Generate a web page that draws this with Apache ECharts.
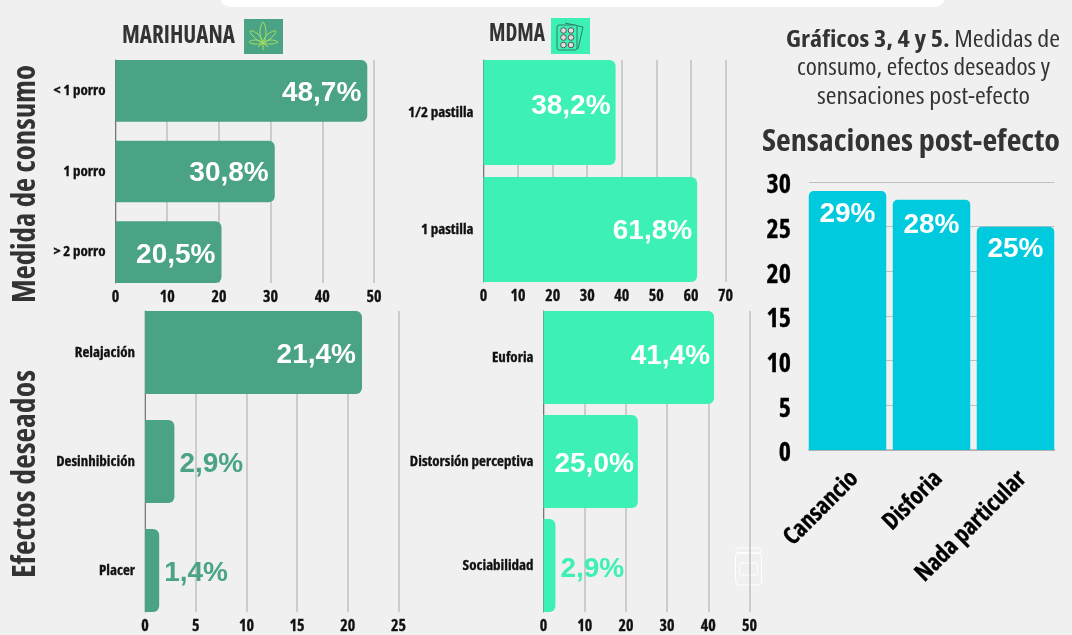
<!DOCTYPE html>
<html>
<head>
<meta charset="utf-8">
<style>
  html, body { margin: 0; padding: 0; background: #f0f0f0; }
  #chart { width: 1072px; height: 635px; }
</style>
</head>
<body>
<div id="chart"></div>
<script src="https://cdn.jsdelivr.net/npm/echarts@6/dist/echarts.min.js"></script>
<script>
// values
var consumoMarihuanaCats = ['< 1 porro', '1 porro', '> 2 porro'];
var consumoMarihuanaVals = [48.7, 30.8, 20.5];
var consumoMarihuanaTags = ['48,7%', '30,8%', '20,5%'];

var consumoMdmaCats = ['1/2 pastilla', '1 pastilla'];
var consumoMdmaVals = [38.2, 61.8];
var consumoMdmaTags = ['38,2%', '61,8%'];

var efectosMarihuanaCats = ['Relajación', 'Desinhibición', 'Placer'];
var efectosMarihuanaVals = [21.4, 2.9, 1.4];
var efectosMarihuanaTags = ['21,4%', '2,9%', '1,4%'];

// the middle bar in the source is drawn shorter than its printed 25,0%
var efectosMdmaCats = ['Euforia', 'Distorsión perceptiva', 'Sociabilidad'];
var efectosMdmaVals = [41.4, 22.9, 2.9];
var efectosMdmaTags = ['41,4%', '25,0%', '2,9%'];

var sensacionesCats = ['Cansancio', 'Disforia', 'Nada particular'];
var sensacionesVals = [29, 28, 25];
var sensacionesTags = ['29%', '28%', '25%'];

var SANS = '"Liberation Sans", Arial, sans-serif';
var NARROW = '"Open Sans"';
var GREEN = '#4ba385';
var MINT = '#3df0b5';
var CYAN = '#00cbde';

var option = {
  backgroundColor: '#f0f0f0',
  animation: false,
  grid: [],
  xAxis: [],
  yAxis: [],
  series: [],
  graphic: []
};

function narrowLabel (size, color, extra) {
  var o = {
    color: color, fontFamily: NARROW, fontStyle: 'condensed', fontWeight: 'bold', fontSize: size,
    textBorderColor: color, textBorderWidth: 0.3
  };
  for (var k in extra) o[k] = extra[k];
  return o;
}

function hPanel (p) {
  var n = p.cats.length;
  var band = (p.bottom - p.top + p.gap) / n;
  var pad = p.gap / 2;
  var g = option.grid.length;

  option.grid.push({ left: p.left, width: p.width, top: p.top, height: p.bottom - p.top });
  option.xAxis.push({
    gridIndex: g, type: 'value', min: 0, max: p.max, interval: p.step, position: 'bottom',
    axisLine: { show: false }, axisTick: { show: false },
    axisLabel: narrowLabel(16, '#111', { margin: 6 }),
    splitLine: { show: true, lineStyle: { color: '#c0c0c0', width: 1.5 } }
  });
  option.yAxis.push({
    gridIndex: g, type: 'value', min: 0, max: 1,
    axisLine: { show: true, onZero: false, lineStyle: { color: '#777', width: 1 } },
    axisTick: { show: false }, axisLabel: { show: false }, splitLine: { show: false }
  });

  option.grid.push({ left: p.left, width: p.width, top: p.top - pad, height: p.bottom - p.top + p.gap });
  option.xAxis.push({ gridIndex: g + 1, type: 'value', min: 0, max: p.max, show: false });
  option.yAxis.push({
    gridIndex: g + 1, type: 'category', inverse: true, data: p.cats,
    axisLine: { show: false }, axisTick: { show: false },
    axisLabel: narrowLabel(15, '#111', { margin: 10, interval: 0 })
  });
  option.series.push({
    type: 'bar', xAxisIndex: g + 1, yAxisIndex: g + 1,
    barWidth: band - p.gap,
    itemStyle: { color: p.color, borderRadius: [0, 6, 6, 0] },
    data: p.vals.map(function (v, i) {
      var outside = v < 5;
      return {
        value: v,
        label: {
          show: true,
          formatter: p.tags[i],
          position: outside ? 'right' : 'insideRight',
          distance: outside ? 5 : p.inset,
          offset: [0, p.nudge[i]],
          color: outside ? p.color : '#fff',
          fontFamily: SANS,
          fontWeight: 'bold',
          fontSize: 28
        }
      };
    })
  });
}

hPanel({ cats: consumoMarihuanaCats, vals: consumoMarihuanaVals, tags: consumoMarihuanaTags, nudge: [2, 2, 3], inset: 6,
  left: 115.5, width: 258.5, top: 60, bottom: 283, gap: 19, max: 50, step: 10, color: GREEN });
hPanel({ cats: consumoMdmaCats, vals: consumoMdmaVals, tags: consumoMdmaTags, nudge: [-6, 2], inset: 5,
  left: 483.5, width: 242, top: 60, bottom: 282, gap: 12, max: 70, step: 10, color: MINT });
hPanel({ cats: efectosMarihuanaCats, vals: efectosMarihuanaVals, tags: efectosMarihuanaTags, nudge: [3, 3, 3], inset: 6,
  left: 145, width: 253.5, top: 311, bottom: 612, gap: 26, max: 25, step: 5, color: GREEN });
hPanel({ cats: efectosMdmaCats, vals: efectosMdmaVals, tags: efectosMdmaTags, nudge: [-1, 3, 4], inset: 4,
  left: 543.5, width: 206, top: 311, bottom: 612, gap: 11, max: 50, step: 10, color: MINT });

// vertical chart on the right: gridlines, bars, then a grid just for the tick and category text
(function () {
  var g = option.grid.length;
  var labelNudge = [2, 4, 2];
  option.grid.push({ left: 809, width: 245.5, top: 182, height: 268 });
  option.xAxis.push({
    gridIndex: g, type: 'category', data: sensacionesCats,
    axisLine: { show: true, lineStyle: { color: '#aaa', width: 1.5 } },
    axisTick: { show: false }, axisLabel: { show: false }
  });
  option.yAxis.push({
    gridIndex: g, type: 'value', min: 0, max: 30, interval: 5,
    axisLine: { show: false }, axisTick: { show: false }, axisLabel: { show: false },
    splitLine: { show: true, lineStyle: { color: '#c0c0c0', width: 1 } }
  });

  option.grid.push({ left: 805.5, width: 252, top: 182, height: 268 });
  option.xAxis.push({ gridIndex: g + 1, type: 'category', data: sensacionesCats, show: false });
  option.yAxis.push({ gridIndex: g + 1, type: 'value', min: 0, max: 30, show: false });
  option.series.push({
    type: 'bar', xAxisIndex: g + 1, yAxisIndex: g + 1,
    barWidth: 77.5,
    itemStyle: { color: CYAN, borderRadius: [5, 5, 0, 0] },
    data: sensacionesVals.map(function (v, i) {
      return {
        value: v,
        label: {
          show: true, position: 'insideTop', distance: 7, offset: [0, labelNudge[i]], color: '#fff',
          fontFamily: SANS, fontWeight: 'bold', fontSize: 28,
          formatter: sensacionesTags[i]
        }
      };
    })
  });

  option.grid.push({ left: 812.5, width: 252, top: 186, height: 268 });
  option.xAxis.push({
    gridIndex: g + 2, type: 'category', data: sensacionesCats,
    axisLine: { show: false }, axisTick: { show: false },
    axisLabel: narrowLabel(24, '#000', { rotate: 45, margin: 21, interval: 0 })
  });
  option.yAxis.push({
    gridIndex: g + 2, type: 'value', min: 0, max: 30, interval: 5,
    axisLine: { show: false }, axisTick: { show: false }, splitLine: { show: false },
    axisLabel: narrowLabel(26, '#000', { margin: 21.5 })
  });
})();

// squeeze a heading to the width it has in the picture
var measure = document.createElement('canvas').getContext('2d');
function widthOf (text, size, weight) {
  measure.font = 'condensed ' + weight + ' ' + size + 'px ' + NARROW;
  return measure.measureText(text).width;
}
function heading (x, y, text, size, target, weight, align, rotation) {
  return {
    type: 'text', x: x, y: y, silent: true, rotation: rotation || 0,
    scaleX: target / widthOf(text, size, weight),
    style: {
      text: text, fontFamily: NARROW, fontStyle: 'condensed', fontWeight: weight, fontSize: size, fill: '#333',
      textAlign: align, textVerticalAlign: 'middle'
    }
  };
}
function lobe (points) {
  return { type: 'polygon', silent: true, shape: { points: points, smooth: 0.4 }, style: { fill: 'none', stroke: '#a5e060', lineWidth: 1 } };
}
function pill (cx, cy) {
  return { type: 'circle', silent: true, shape: { cx: cx, cy: cy, r: 2.8 }, style: { fill: '#ddd', stroke: '#555', lineWidth: 1 } };
}

var boldPart = 'Gráficos 3, 4 y 5. ';
var plainPart = 'Medidas de';
var boldW = widthOf(boldPart, 23, 'bold');
var plainW = widthOf(plainPart, 23, 'normal');

option.graphic = [
  { type: 'rect', silent: true, shape: { x: 220, y: -20, width: 725, height: 27, r: 10 }, style: { fill: '#fff' } },

  // icon tiles
  { type: 'rect', silent: true, shape: { x: 244, y: 19, width: 39, height: 35 }, style: { fill: GREEN } },
  { type: 'rect', silent: true, shape: { x: 551, y: 18, width: 39, height: 36 }, style: { fill: MINT } },

  // leaf
  lobe([[263, 43], [260, 32], [263, 22], [266, 32]]),
  lobe([[263, 43], [255, 38], [250, 31], [258, 34]]),
  lobe([[263, 43], [271, 38], [276, 31], [268, 34]]),
  lobe([[263, 43], [255, 44], [249, 42], [256, 40]]),
  lobe([[263, 43], [271, 44], [278, 42], [270, 40]]),
  { type: 'line', silent: true, shape: { x1: 263, y1: 43, x2: 263, y2: 50 }, style: { stroke: '#a5e060', lineWidth: 1 } },
  { type: 'polyline', silent: true, shape: { points: [[258, 47], [263, 43], [268, 47]] }, style: { fill: 'none', stroke: '#a5e060', lineWidth: 1 } },

  // blister packs
  { type: 'polyline', silent: true, shape: { points: [[565, 23], [583, 27], [578, 49]] }, style: { fill: 'none', stroke: '#2f7f68', lineWidth: 1 } },
  { type: 'rect', silent: true, shape: { x: 557, y: 25, width: 20, height: 25, r: 2 }, style: { fill: MINT, stroke: '#2f7f68', lineWidth: 1 } },
  pill(563.5, 30.5), pill(571, 30.5),
  pill(563.5, 37.5), pill(571, 37.5),
  pill(563.5, 45), pill(571, 45),

  // jar
  { type: 'rect', silent: true, shape: { x: 736, y: 548, width: 25, height: 5, r: 1.5 }, style: { fill: 'none', stroke: '#fff', lineWidth: 1 } },
  { type: 'rect', silent: true, shape: { x: 735.5, y: 553, width: 26, height: 32, r: 4 }, style: { fill: 'none', stroke: '#fff', lineWidth: 1 } },
  { type: 'rect', silent: true, shape: { x: 739.5, y: 563, width: 18, height: 12, r: 1.5 }, style: { fill: 'none', stroke: '#fff', lineWidth: 1 } },

  heading(122, 36, 'MARIHUANA', 25, 113, 'bold', 'left'),
  heading(489, 34, 'MDMA', 25, 56, 'bold', 'left'),
  heading(26, 184, 'Medida de consumo', 32, 238, 'bold', 'center', Math.PI / 2),
  heading(26, 474, 'Efectos deseados', 32, 208, 'bold', 'center', Math.PI / 2),

  heading(786, 40, boldPart, 23, 274 * boldW / (boldW + plainW), 'bold', 'left'),
  heading(1060, 40, plainPart, 23, 274 * plainW / (boldW + plainW), 'normal', 'right'),
  heading(923.5, 68, 'consumo, efectos deseados y', 23, 253, 'normal', 'center'),
  heading(923.5, 97, 'sensaciones post-efecto', 23, 213, 'normal', 'center'),
  heading(911, 142, 'Sensaciones post-efecto', 30, 298, 'bold', 'center')
];

var chart = echarts.init(document.getElementById('chart'), null, { renderer: 'canvas' });
chart.setOption(option);
</script>
</body>
</html>
